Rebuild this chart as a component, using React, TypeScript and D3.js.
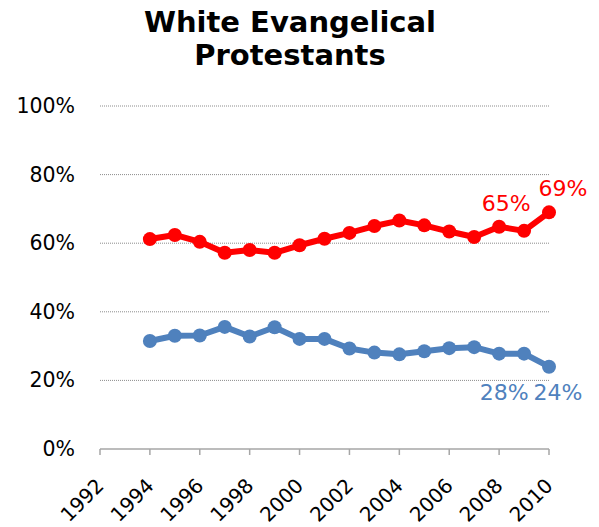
import React from "react";
import * as d3 from "d3";

const years = [1994, 1995, 1996, 1997, 1998, 1999, 2000, 2001, 2002, 2003, 2004, 2005, 2006, 2007, 2008, 2009, 2010];
const republican = [61.2, 62.4, 60.4, 57.2, 58.0, 57.2, 59.4, 61.3, 63.0, 65.0, 66.6, 65.2, 63.4, 61.8, 64.8, 63.6, 69.0];
const democrat = [31.5, 33.0, 33.1, 35.6, 32.8, 35.5, 32.1, 32.1, 29.3, 28.1, 27.6, 28.5, 29.4, 29.7, 27.8, 27.8, 24.0];
const yTicks = [0, 20, 40, 60, 80, 100];
const xTicks = [1992, 1994, 1996, 1998, 2000, 2002, 2004, 2006, 2008, 2010];
const titleLines = ["White Evangelical", "Protestants"];
const redLabels = [{ year: 2008, value: 64.8, text: "65%", dx: 7 }, { year: 2010, value: 69.0, text: "69%", dx: 14 }];
const blueLabels = [{ year: 2008, value: 27.8, text: "28%", dx: 5 }, { year: 2010, value: 24.0, text: "24%", dx: 9 }];

const RED = "#FF0000";
const BLUE = "#4F81BD";
const FONT = "DejaVu Sans, Verdana, sans-serif";

export default function App() {
  const x = d3.scaleLinear().domain([1992, 2010]).range([100, 549]);
  const y = d3.scaleLinear().domain([0, 100]).range([449, 106]);
  const line = d3
    .line<[number, number]>()
    .x((d) => x(d[0]))
    .y((d) => y(d[1]));
  const redPts: [number, number][] = years.map((yr, i) => [yr, republican[i]]);
  const bluePts: [number, number][] = years.map((yr, i) => [yr, democrat[i]]);

  return (
    <svg width={599} height={527} style={{ position: "absolute", left: 0, top: 0, background: "#fff" }} fontFamily={FONT}>
      <rect width={599} height={527} fill="#fff" />
      {titleLines.map((t, i) => (
        <text key={t} x={290} y={32 + i * 33} textAnchor="middle" fontSize={29} fontWeight="bold" fill="#000">
          {t}
        </text>
      ))}
      {yTicks.filter((v) => v > 0).map((v) => (
        <line key={v} x1={x(1992)} x2={x(2010)} y1={y(v)} y2={y(v)} stroke="#8c8c8c" strokeWidth={1} strokeDasharray="1,1" />
      ))}
      {yTicks.map((v) => (
        <text key={v} x={75} y={y(v)} dy={7} textAnchor="end" fontSize={20.5} fill="#000">
          {v}%
        </text>
      ))}
      <line x1={x(1992)} x2={x(2010)} y1={y(0)} y2={y(0)} stroke="#a6a6a6" strokeWidth={1.5} />
      {xTicks.map((t) => (
        <g key={t}>
          <line x1={x(t)} x2={x(t)} y1={y(0)} y2={y(0) + 6} stroke="#a6a6a6" strokeWidth={1.5} />
          <text
            x={x(t) + 5}
            y={487}
            textAnchor="end"
            fontSize={20}
            fill="#000"
            transform={`rotate(-45, ${x(t) + 5}, 487)`}
          >
            {t}
          </text>
        </g>
      ))}
      <path d={line(redPts) || ""} fill="none" stroke={RED} strokeWidth={6} strokeLinejoin="round" />
      {redPts.map((p, i) => (
        <circle key={i} cx={x(p[0])} cy={y(p[1])} r={7} fill={RED} />
      ))}
      <path d={line(bluePts) || ""} fill="none" stroke={BLUE} strokeWidth={6} strokeLinejoin="round" />
      {bluePts.map((p, i) => (
        <circle key={i} cx={x(p[0])} cy={y(p[1])} r={7} fill={BLUE} />
      ))}
      {redLabels.map((l) => (
        <text key={l.text} x={x(l.year) + l.dx} y={y(l.value) - 16} textAnchor="middle" fontSize={22} fill={RED}>
          {l.text}
        </text>
      ))}
      {blueLabels.map((l) => (
        <text key={l.text} x={x(l.year) + l.dx} y={400} textAnchor="middle" fontSize={22} fill={BLUE}>
          {l.text}
        </text>
      ))}
    </svg>
  );
}
